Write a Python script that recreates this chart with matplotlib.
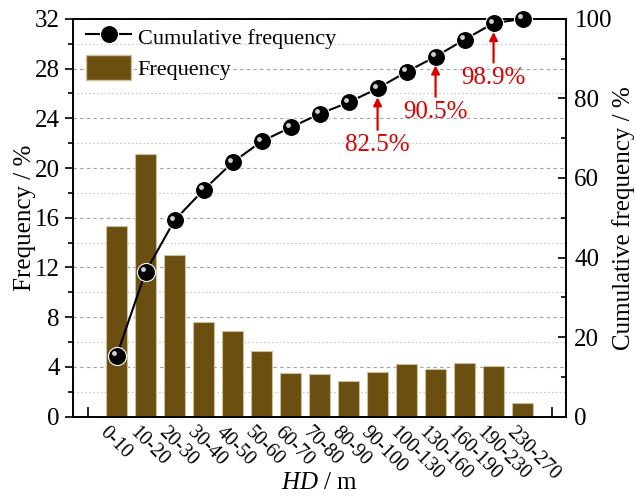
import matplotlib
matplotlib.use("Agg")
import matplotlib.pyplot as plt
import matplotlib.transforms as mtransforms
from matplotlib.lines import Line2D
from matplotlib.patches import Patch
from matplotlib.ticker import MultipleLocator

plt.rcParams['font.family'] = ['Liberation Serif', 'DejaVu Serif']
plt.rcParams['mathtext.fontset'] = 'custom'
plt.rcParams['mathtext.it'] = 'Liberation Serif:italic'
plt.rcParams['mathtext.rm'] = 'Liberation Serif'

# Datos
clases = ['0-10', '10-20', '20-30', '30-40', '40-50', '50-60', '60-70', '70-80',
          '80-90', '90-100', '100-130', '130-160', '160-190', '190-230', '230-270']
frecuencia = [15.3, 21.1, 13.0, 7.6, 6.9, 5.3, 3.5, 3.4, 2.9, 3.6, 4.2, 3.8, 4.3, 4.1, 1.1]
acumulada = [15.3, 36.4, 49.4, 57.0, 63.9, 69.2, 72.7, 76.1, 79.0, 82.5, 86.7, 90.5,
             94.8, 98.9, 100.0]
# anotaciones: indice de clase, texto
notas_idx = [9, 11, 13]
notas_txt = ['82.5%', '90.5%', '98.9%']

color_barra = '#6b4f10'
rojo = '#d90000'
fs = 18

fig = plt.figure(figsize=(6.36, 4.96), dpi=100)
ax = fig.add_axes([0.115, 0.160, 0.775, 0.802])
ax2 = ax.twinx()

pos = list(range(1, len(clases) + 1))
ax.bar(pos, frecuencia, width=0.73, color=color_barra, edgecolor='#cdbf9a',
       linewidth=0.8, zorder=2)

ax.set_xlim(-0.5, 16.5)
ax.set_ylim(0, 32)
ax.yaxis.set_major_locator(MultipleLocator(4))
ax.yaxis.set_minor_locator(MultipleLocator(2))
ax.grid(axis='y', which='major', color='#a0a0a0', linestyle=(0, (3, 3)), linewidth=0.8, zorder=0)
ax.grid(axis='y', which='minor', color='#c8c8c8', linestyle=(0, (1.5, 2)), linewidth=0.8, zorder=0)
ax.set_axisbelow(True)

ax.set_xticks(list(range(0, 17)))
ax.set_xticklabels([''] + clases + [''], rotation=-45, ha='left', va='top',
                   rotation_mode='anchor', fontsize=14.5)
ax.tick_params(axis='x', direction='in', length=7, width=1.2, pad=5, top=False)
desplazar = mtransforms.ScaledTranslation(-7 / 100, 0, fig.dpi_scale_trans)
for etiqueta in ax.get_xticklabels():
    etiqueta.set_transform(etiqueta.get_transform() + desplazar)
ax.tick_params(axis='y', which='major', direction='out', length=6, width=1.2, labelsize=fs)
ax.tick_params(axis='y', which='minor', direction='out', length=3.5, width=1.2)
ax.set_ylabel('Frequency / %', fontsize=fs)
ax.yaxis.set_label_coords(-0.076, 0.5)
ax.set_xlabel(r'$HD$ / m', fontsize=fs)
ax.xaxis.set_label_coords(0.5, -0.138)

ax2.set_ylim(0, 100)
ax2.yaxis.set_major_locator(MultipleLocator(20))
ax2.yaxis.set_minor_locator(MultipleLocator(10))
ax2.tick_params(axis='y', which='major', direction='in', length=6, width=1.2, labelsize=fs, pad=6)
ax2.tick_params(axis='y', which='minor', direction='in', length=3.5, width=1.2)
ax2.set_ylabel('Cumulative frequency / %', fontsize=fs)
ax2.yaxis.set_label_coords(1.093, 0.5)

for a in (ax, ax2):
    for s in a.spines.values():
        s.set_linewidth(1.2)

# curva acumulada con marcadores tipo esfera
ax2.plot(pos, acumulada, color='black', linewidth=1.5, marker='o', markersize=13,
         markerfacecolor='black', markeredgecolor='white', markeredgewidth=0.8,
         zorder=3, clip_on=False)
brillo = ax2.transData + mtransforms.ScaledTranslation(-1.8 / 72, 1.8 / 72, fig.dpi_scale_trans)
ax2.plot(pos, acumulada, linestyle='none', marker='o', markersize=3.5,
         markerfacecolor='#d0d0d0', markeredgecolor='none', transform=brillo,
         zorder=4, clip_on=False)

# anotaciones en rojo
desplaz = [14.2, 13.9, 13.7]
for i, txt, d in zip(notas_idx, notas_txt, desplaz):
    x = pos[i]
    y = acumulada[i]
    ax2.annotate(txt, xy=(x, y - 2.2), xytext=(x, y - d), ha='center', va='center',
                 color=rojo, fontsize=fs,
                 arrowprops=dict(arrowstyle='-|>', color=rojo, lw=1.6,
                                 mutation_scale=12, shrinkA=1, shrinkB=0))

manejadores = [Line2D([0], [0], color='black', linewidth=1.5, marker='o', markersize=13,
                      markerfacecolor='black', markeredgecolor='white', markeredgewidth=0.8),
               Patch(facecolor=color_barra, edgecolor='#cdbf9a')]
ax2.legend(manejadores, ['Cumulative frequency', 'Frequency'], loc='upper left',
           bbox_to_anchor=(0.0, 1.02), frameon=False, fontsize=16, handlelength=2.0,
           handleheight=1.3, borderaxespad=0.2, handletextpad=0.3, labelspacing=0.3)

fig.savefig('out.png', dpi=100)
